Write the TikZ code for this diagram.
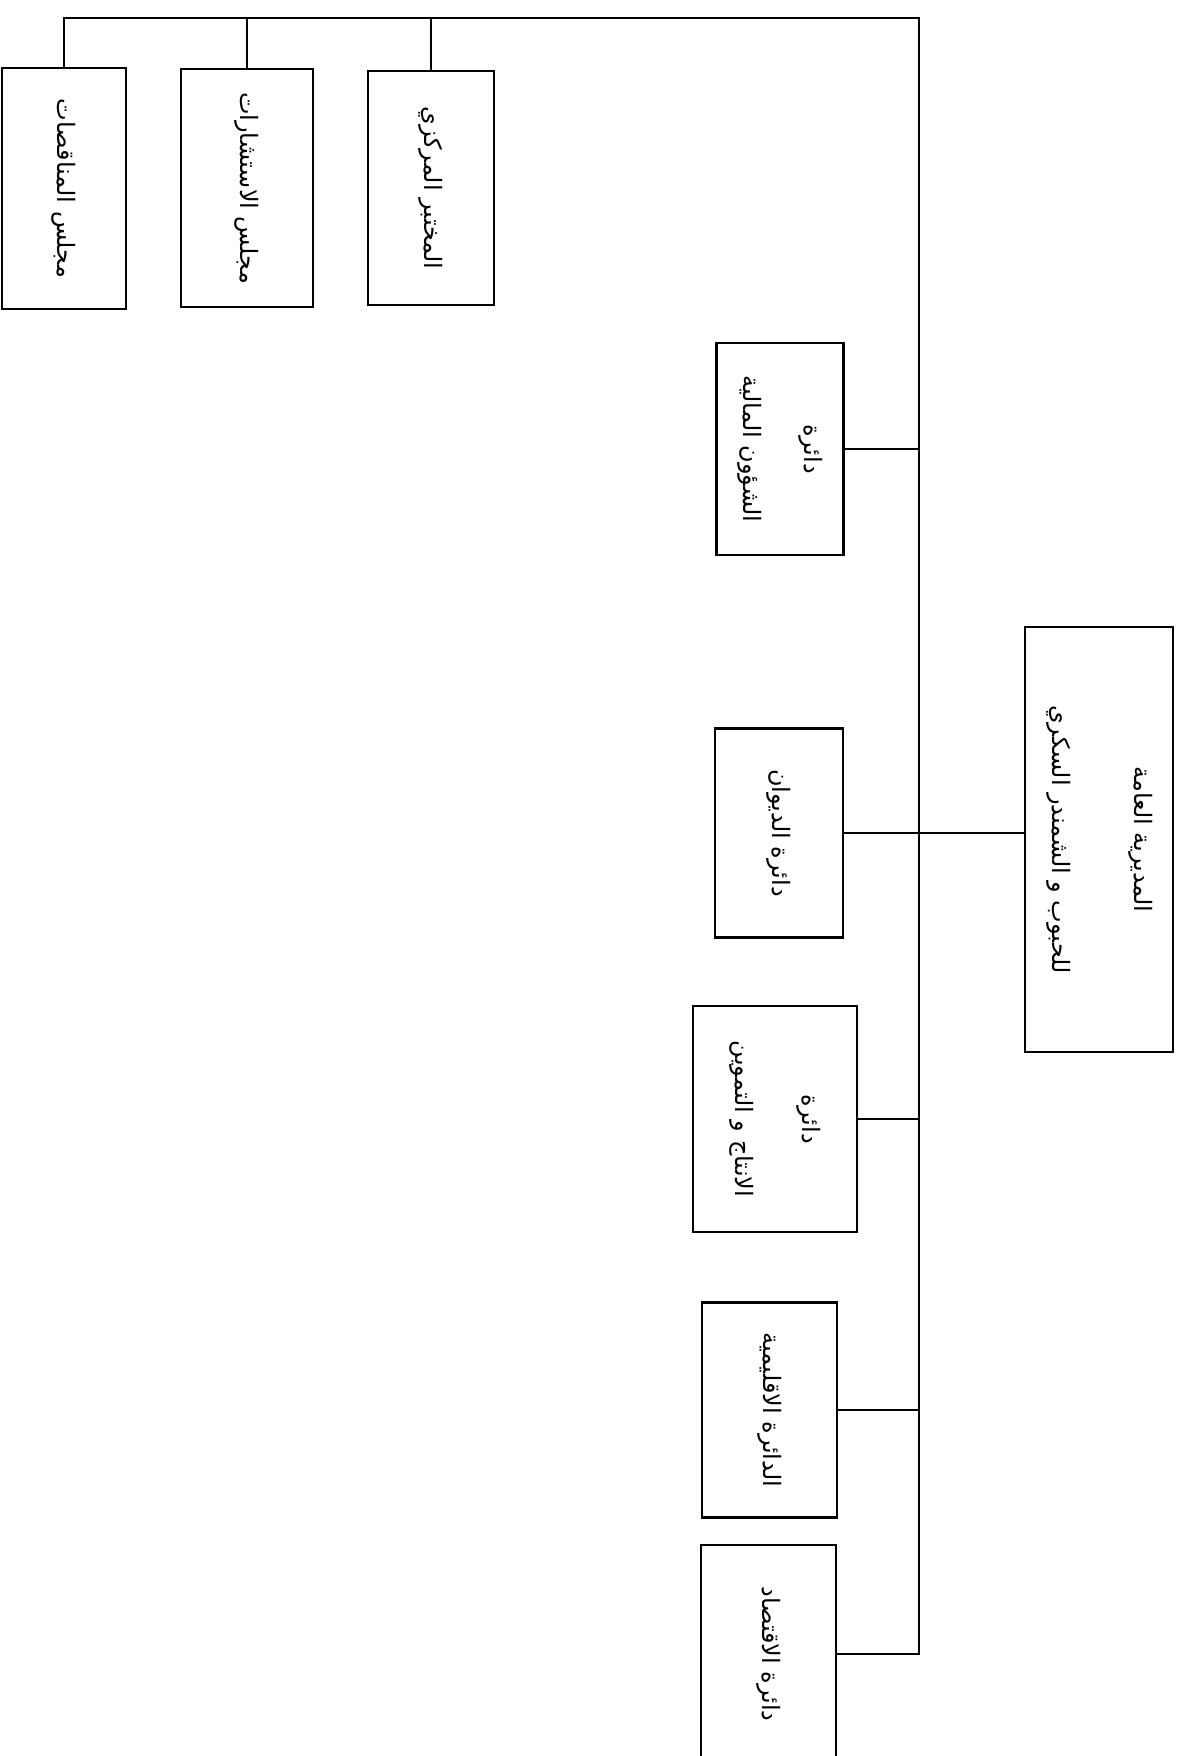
\documentclass[tikz,border=0pt]{standalone}
\usepackage{fontspec}
\usepackage{graphicx}
\newfontfamily\arabicfont[Script=Arabic]{DejaVu Sans}
\TeXXeTstate=1
\tikzset{
  unitbox/.style={draw, line width=2.2pt, inner sep=0pt, font=\arabicfont\fontsize{24}{29}\selectfont},
  link/.style={line width=2pt},
}
\begin{document}
\begin{tikzpicture}[x=1pt,y=-1pt]
\useasboundingbox (0,0) rectangle (1182,1756);
\clip (0,0) rectangle (1182,1756);
% top row
\node[unitbox, minimum width=124pt, minimum height=241pt] (b1) at (64,188.5) {\rotatebox{-90}{\beginR مجلس المناقصات\endR}};
\node[unitbox, minimum width=132pt, minimum height=238pt] (b2) at (247,188) {\rotatebox{-90}{\beginR مجلس الاستشارات\endR}};
\node[unitbox, minimum width=126pt, minimum height=234pt] (b3) at (431,188) {\rotatebox{-90}{\beginR المختبر المركزي\endR}};
% side units
\node[unitbox, minimum width=127pt, minimum height=212pt] (b4) at (780,449) {\rotatebox{-90}{\begin{tabular}{@{}c@{}}\beginR دائرة\endR\\[32pt]\beginR الشؤون المالية\endR\end{tabular}}};
\node[unitbox, minimum width=128pt, minimum height=209pt] (b5) at (779,833) {\rotatebox{-90}{\beginR دائرة الديوان\endR}};
\node[unitbox, minimum width=164pt, minimum height=226pt] (b6) at (775,1119) {\rotatebox{-90}{\begin{tabular}{@{}c@{}}\beginR دائرة\endR\\[38pt]\beginR الانتاج و التموين\endR\end{tabular}}};
\node[unitbox, minimum width=135pt, minimum height=215pt] (b7) at (769.5,1410) {\rotatebox{-90}{\beginR الدائرة الاقليمية\endR}};
\node[unitbox, minimum width=135pt, minimum height=218pt] (b8) at (768.5,1654) {\rotatebox{-90}{\beginR دائرة الاقتصاد\endR}};
% main
\node[unitbox, minimum width=148pt, minimum height=425pt] (main) at (1099,839.5) {\rotatebox{-90}{\begin{tabular}{@{}c@{}}\beginR المديرية العامة\endR\\[53pt]\beginR للحبوب و الشمندر السكري\endR\end{tabular}}};
% connectors
\coordinate (tr) at (919,18);
\draw[link] (b1.north) |- (tr) |- (b8.east);
\draw[link] (b2.north) -- (b2.north |- tr);
\draw[link] (b3.north) -- (b3.north |- tr);
\draw[link] (b4.east) -- (b4.east -| tr);
\draw[link] (b5.east) -- (b5.east -| main.west);
\draw[link] (b6.east) -- (b6.east -| tr);
\draw[link] (b7.east) -- (b7.east -| tr);
\end{tikzpicture}
\end{document}
